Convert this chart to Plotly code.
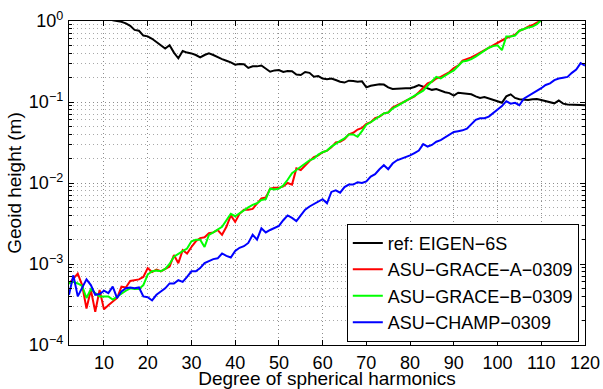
import plotly.graph_objects as go

# Spherical-harmonic degree (x axis)
degrees = list(range(2, 121))

# Degree amplitudes of geoid height, stored as log10(metres)
eigen_log10 = [
    0.60, 0.45, 0.38, 0.32, 0.25, 0.20, 0.15, 0.11, 0.07, 0.04,          # 2-11
    0.01, 0.00, -0.01, -0.03, -0.06, -0.11, -0.12, -0.18, -0.19, -0.22,  # 12-21
    -0.26, -0.29, -0.34, -0.30, -0.39, -0.46, -0.37, -0.39, -0.40, -0.42,  # 22-31
    -0.45, -0.42, -0.40, -0.42, -0.45, -0.47, -0.49, -0.51, -0.54, -0.53,  # 32-41
    -0.535, -0.58, -0.56, -0.56, -0.55, -0.59, -0.626, -0.61, -0.605, -0.63,  # 42-51
    -0.617, -0.62, -0.66, -0.667, -0.63, -0.64, -0.687, -0.68, -0.71, -0.72,  # 52-61
    -0.71, -0.728, -0.75, -0.76, -0.737, -0.74, -0.749, -0.745, -0.819, -0.80,  # 62-71
    -0.79, -0.78, -0.785, -0.82, -0.84, -0.835, -0.83, -0.83, -0.83, -0.815,  # 72-81
    -0.79, -0.81, -0.83, -0.85, -0.84, -0.86, -0.88, -0.89, -0.92, -0.885,  # 82-91
    -0.89, -0.90, -0.905, -0.93, -0.95, -0.94, -0.955, -0.967, -0.99, -1.01,  # 92-101
    -0.93, -0.905, -0.95, -0.965, -0.97, -0.975, -0.965, -0.963, -0.975, -0.99,  # 102-111
    -1.00, -1.016, -0.98, -1.02, -1.03, -1.03, -1.035, -1.037, -1.04,  # 112-120
]

grace_a_log10 = [
    -3.24, -3.18, -3.12, -3.26, -3.55, -3.32, -3.59, -3.32, -3.56, -3.51,  # 2-11
    -3.47, -3.42, -3.28, -3.29, -3.21, -3.20, -3.19, -3.16, -3.05, -3.10,  # 12-21
    -3.07, -3.09, -3.06, -3.03, -2.89, -2.99, -2.83, -2.87, -2.79, -2.72,  # 22-31
    -2.68, -2.67, -2.62, -2.61, -2.58, -2.64, -2.54, -2.40, -2.48, -2.38,  # 32-41
    -2.33, -2.33, -2.32, -2.25, -2.19, -2.18, -2.07, -2.06, -2.06, -2.04,  # 42-51
    -2.00, -2.02, -1.82, -1.84, -1.78, -1.73, -1.68, -1.66, -1.62, -1.60,  # 52-61
    -1.56, -1.50, -1.49, -1.46, -1.40, -1.38, -1.34, -1.32, -1.27, -1.25,  # 62-71
    -1.20, -1.18, -1.14, -1.13, -1.07, -1.04, -1.01, -0.98, -0.96, -0.93,  # 72-81
    -0.88, -0.82, -0.77, -0.75, -0.71, -0.69, -0.66, -0.63, -0.58, -0.55,  # 82-91
    -0.49, -0.47, -0.45, -0.42, -0.39, -0.36, -0.33, -0.30, -0.27, -0.235,  # 92-101
    -0.21, -0.19, -0.17, -0.12, -0.10, -0.07, -0.05, -0.02, 0.01, 0.03,  # 102-111
    0.06, 0.08, 0.11, 0.13, 0.16, 0.18, 0.21, 0.23, 0.26,  # 112-120
]

grace_b_log10 = [
    -3.24, -3.22, -3.24, -3.27, -3.42, -3.31, -3.36, -3.40, -3.40, -3.40,  # 2-11
    -3.44, -3.40, -3.36, -3.33, -3.30, -3.31, -3.31, -3.26, -3.13, -3.09,  # 12-21
    -3.08, -3.09, -3.06, -3.00, -2.91, -2.87, -2.84, -2.81, -2.72, -2.70,  # 22-31
    -2.70, -2.79, -2.64, -2.61, -2.58, -2.54, -2.46, -2.38, -2.41, -2.37,  # 32-41
    -2.33, -2.30, -2.27, -2.25, -2.21, -2.20, -2.07, -2.08, -2.07, -2.03,  # 42-51
    -1.96, -1.88, -1.84, -1.80, -1.77, -1.72, -1.70, -1.65, -1.62, -1.60,  # 52-61
    -1.55, -1.51, -1.48, -1.45, -1.40, -1.40, -1.43, -1.36, -1.28, -1.25,  # 62-71
    -1.21, -1.18, -1.14, -1.13, -1.08, -1.05, -1.02, -0.99, -0.96, -0.93,  # 72-81
    -0.89, -0.86, -0.80, -0.75, -0.69, -0.71, -0.67, -0.64, -0.61, -0.56,  # 82-91
    -0.50, -0.49, -0.47, -0.44, -0.40, -0.36, -0.33, -0.31, -0.30, -0.36,  # 92-101
    -0.19, -0.19, -0.18, -0.12, -0.10, -0.08, -0.07, -0.04, 0.01, 0.03,  # 102-111
    0.05, 0.08, 0.10, 0.13, 0.15, 0.18, 0.20, 0.23, 0.25,  # 112-120
]

champ_log10 = [
    -3.38, -3.14, -3.40, -3.30, -3.19, -3.26, -3.38, -3.37, -3.33, -3.36,  # 2-11
    -3.28, -3.42, -3.34, -3.30, -3.29, -3.30, -3.29, -3.40, -3.41, -3.45,  # 12-21
    -3.38, -3.34, -3.30, -3.24, -3.24, -3.20, -3.22, -3.16, -3.09, -3.09,  # 22-31
    -3.05, -2.99, -2.96, -2.94, -2.93, -2.87, -2.90, -2.92, -2.84, -2.80,  # 32-41
    -2.78, -2.74, -2.64, -2.70, -2.56, -2.61, -2.58, -2.55, -2.53, -2.46,  # 42-51
    -2.40, -2.43, -2.47, -2.40, -2.33, -2.29, -2.26, -2.24, -2.20, -2.25,  # 52-61
    -2.11, -2.09, -2.12, -2.05, -2.02, -2.02, -1.99, -2.00, -1.98, -1.92,  # 62-71
    -1.89, -1.83, -1.78, -1.83, -1.76, -1.72, -1.70, -1.68, -1.66, -1.63,  # 72-81
    -1.60, -1.52, -1.55, -1.53, -1.49, -1.47, -1.44, -1.40, -1.37, -1.36,  # 82-91
    -1.35, -1.33, -1.27, -1.22, -1.20, -1.20, -1.18, -1.14, -1.09, -1.05,  # 92-101
    -0.99, -1.02, -1.01, -1.04, -0.96, -0.93, -0.89, -0.86, -0.83, -0.79,  # 102-111
    -0.77, -0.73, -0.71, -0.70, -0.69, -0.64, -0.60, -0.52, -0.55,  # 112-120
]

series_names = [
    "ref: EIGEN\u22126S",
    "ASU\u2212GRACE\u2212A\u22120309",
    "ASU\u2212GRACE\u2212B\u22120309",
    "ASU\u2212CHAMP\u22120309",
]
series_colors = ["#000000", "#ff0000", "#00ff00", "#0000ff"]
series_values = [eigen_log10, grace_a_log10, grace_b_log10, champ_log10]

x_ticks = [10, 20, 30, 40, 50, 60, 70, 80, 90, 100, 110, 120]
y_decades = [-4, -3, -2, -1, 0]
y_tick_text = ["10<sup>\u22124</sup>", "10<sup>\u22123</sup>", "10<sup>\u22122</sup>",
               "10<sup>\u22121</sup>", "10<sup>0</sup>"]

FONT = "Liberation Sans, Arial, Helvetica, sans-serif"
TICK_SIZE = 18
TITLE_SIZE = 19
GRID_DASH = "1px,3px"

fig = go.Figure()
for name, color, logs in zip(series_names, series_colors, series_values):
    fig.add_trace(go.Scatter(
        x=degrees,
        y=[10 ** v for v in logs],
        mode="lines",
        name=name,
        line=dict(color=color, width=2),
    ))

minor_y = [m * 10 ** d for d in y_decades[:-1] for m in range(2, 10)]

axis_common = dict(
    showline=True, linecolor="black", linewidth=1.3, mirror="allticks",
    ticks="inside", ticklen=5, tickcolor="black", tickwidth=1,
    showgrid=True, gridcolor="#8c8c8c", griddash=GRID_DASH, gridwidth=1,
    zeroline=False, automargin=False,
    tickfont=dict(family=FONT, size=TICK_SIZE, color="black"),
)

fig.update_xaxes(
    range=[2, 120],
    tickmode="array", tickvals=x_ticks,
    ticklabelstandoff=1,
    title=dict(text="Degree of spherical harmonics",
               font=dict(family=FONT, size=TITLE_SIZE, color="black"), standoff=0),
    **axis_common,
)
fig.update_yaxes(
    type="log",
    range=[-4, 0],
    tickmode="array",
    tickvals=[10 ** d for d in y_decades],
    ticktext=y_tick_text,
    ticklabelstandoff=1,
    minor=dict(tickmode="array", tickvals=minor_y, ticks="inside", ticklen=3,
               tickcolor="black", showgrid=True, gridcolor="#a8a8a8",
               griddash=GRID_DASH, gridwidth=1),
    title=dict(text="Geoid height (m)",
               font=dict(family=FONT, size=TITLE_SIZE, color="black"), standoff=2),
    **axis_common,
)

fig.update_layout(
    width=603, height=389,
    margin=dict(l=69, r=18, t=21, b=44),
    paper_bgcolor="white", plot_bgcolor="white",
    font=dict(family=FONT, size=TICK_SIZE, color="black"),
    showlegend=True,
    legend=dict(
        x=0.988, y=0.01, xanchor="right", yanchor="bottom",
        bgcolor="white", bordercolor="black", borderwidth=1,
        font=dict(family=FONT, size=18, color="black"),
        tracegroupgap=0, itemwidth=30,
    ),
)

fig.write_html("out.html")
